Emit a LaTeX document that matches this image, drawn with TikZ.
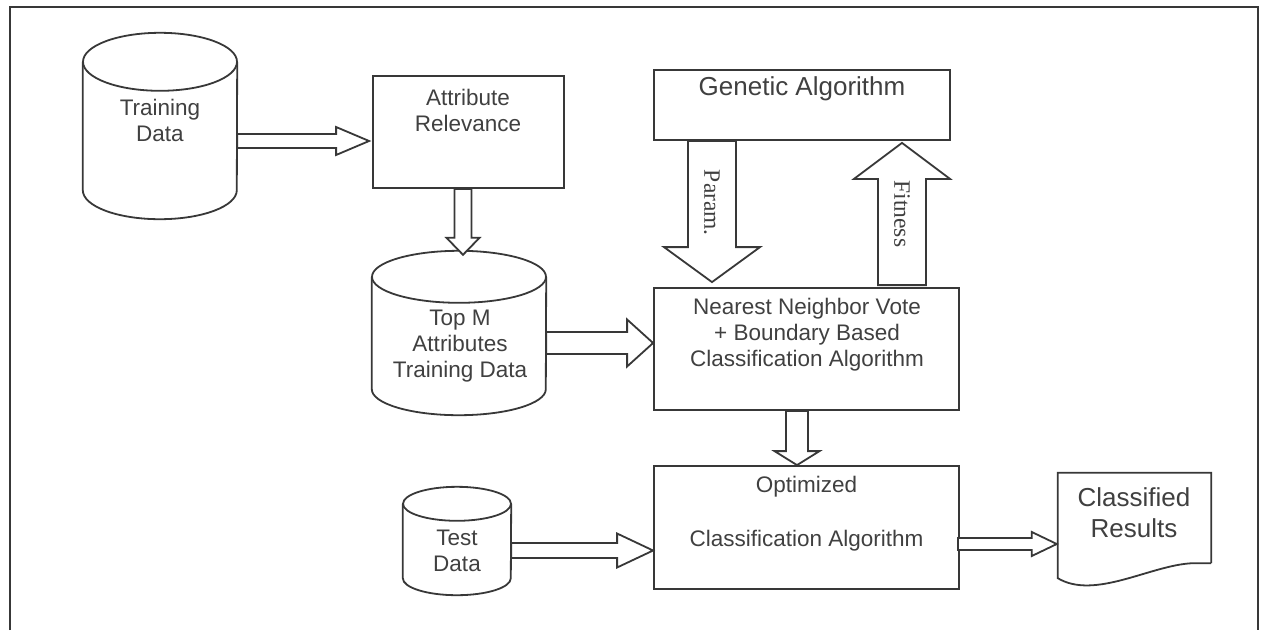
\documentclass[tikz,border=0pt]{standalone}
\usepackage{fontspec}
\setmainfont{Liberation Sans}
\newfontfamily\flowfont{Liberation Serif}
\usepackage{tikz}
\usetikzlibrary{calc}

\definecolor{linegray}{gray}{0.22}
\definecolor{textgray}{gray}{0.25}

% Hollow block arrow: from, to, shaft half width, head half width, head length
\newcommand{\fatarrow}[5]{%
  \coordinate (fa-s) at (#1);
  \coordinate (fa-e) at (#2);
  \coordinate (fa-h) at ($(fa-e)!#5pt!(fa-s)$);
  \draw[fat] ($(fa-s)!#3pt!90:(fa-e)$) -- ($(fa-h)!#3pt!90:(fa-e)$)
    -- ($(fa-h)!#4pt!90:(fa-e)$) -- (fa-e) -- ($(fa-h)!#4pt!-90:(fa-e)$)
    -- ($(fa-h)!#3pt!-90:(fa-e)$) -- ($(fa-s)!#3pt!-90:(fa-e)$) -- cycle;
}

% Database outline round a named node: node, x radius, y radius
\newcommand{\dbshape}[3]{%
  \draw[line, fill=white] ($(#1.north west)+(0,#3)$) -- ($(#1.south west)+(0,-#3)$)
    arc[start angle=180, end angle=360, x radius=#2pt, y radius=#3pt]
    -- ($(#1.north east)+(0,#3)$);
  \draw[line] ($(#1.north)+(0,#3)$) circle[x radius=#2pt, y radius=#3pt];
}

\begin{document}
\begin{tikzpicture}[x=1pt, y=-1pt,
  line/.style={draw=linegray, line width=1.8pt},
  box/.style={line, rectangle, inner sep=0pt},
  db/.style={rectangle, inner sep=0pt},
  fat/.style={line, fill=white, line join=miter},
  lbl/.style={text=textgray, align=center, inner sep=0pt, font=\fontsize{22.5}{26}\selectfont},
  biglbl/.style={lbl, font=\fontsize{26}{31}\selectfont},
  flowlbl/.style={text=textgray, inner sep=0pt, rotate=-90, font=\flowfont\fontsize{23.5}{28}\selectfont}]

% === Drawing region ===
\useasboundingbox (0,0) rectangle (1261,630);

% Outer frame (runs off the bottom)
\draw[line] (10,630) -- (10,7) -- (1258,7) -- (1258,630);

% === Data stores ===
\node[db, minimum width=154pt, minimum height=186pt] (train) at (160,126) {};
\dbshape{train}{77}{29}
\node[lbl] (train-txt) at (160,120.5) {Training\\Data};

\node[db, minimum width=174pt, minimum height=164pt] (topm) at (459,333) {};
\dbshape{topm}{87}{26}
\node[lbl] (topm-txt) at (460,346) {Top M\\Attributes\\Training Data};

\node[db, minimum width=108pt, minimum height=108pt] (test) at (457,541) {};
\dbshape{test}{54}{17}
\node[lbl] (test-txt) at (457,550.5) {Test\\Data};

% === Processing boxes ===
\node[box, minimum width=191pt, minimum height=112pt] (attr) at (468.5,132) {};
\node[lbl] (attr-txt) at (468,110.5) {Attribute\\Relevance};

\node[box, minimum width=296pt, minimum height=70pt] (ga) at (802,105) {};
\node[biglbl] (ga-txt) at (802,89) {Genetic Algorithm};

\node[box, minimum width=305pt, minimum height=122pt] (nn) at (806.5,349) {};
\node[lbl] (nn-txt) at (807,335) {Nearest Neighbor Vote\\+ Boundary Based\\Classification Algorithm};

\node[box, minimum width=305pt, minimum height=123pt] (opt) at (806.5,527.5) {};
\node[lbl] (opt-txt) at (806.5,514) {Optimized\\[28pt]Classification Algorithm};

% Output document
\node[db, minimum width=153pt, minimum height=90pt] (res) at (1134.5,518) {};
\draw[line] (res.south east) -- (res.north east) -- (res.north west)
  -- ($(res.south west)+(0,15)$) .. controls ($(res.south west)+(37,37)$) and ($(res.south east)+(-61,2)$) .. ($(res.south east)+(-19,0)$)
  -- (res.south east);
\node[biglbl] (res-txt) at (1134,512.5) {Classified\\Results};

% === Flow arrows ===
\fatarrow{$(train.east)+(0,15)$}{$(attr.west)+(-3,9)$}{7}{14}{33}
\fatarrow{$(attr.south)+(-5.5,0)$}{$(topm.north)+(4,4)$}{8.5}{16.5}{17}
\fatarrow{$(topm.east)+(0,10)$}{$(nn.west)+(0,-6)$}{11}{23.5}{26}
\fatarrow{$(ga.south)+(-90,0)$}{$(nn.north)+(-94.5,-5)$}{24}{48}{35}
\fatarrow{$(nn.north)+(95.5,-2)$}{$(ga.south)+(100,2)$}{24}{48}{36}
\fatarrow{$(nn.south)+(-9.5,0)$}{$(opt.north)+(-9.5,0)$}{11}{22.5}{14}
\fatarrow{$(test.east)+(0,9.5)$}{$(opt.west)+(0,23)$}{7.5}{17}{36}
\fatarrow{$(opt.east)+(-2,16.5)$}{$(res.west)+(-1,26)$}{6}{12}{25}

% Arrow labels
\node[flowlbl] (param) at ($(ga.south)+(-90,62)$) {Param.};
\node[flowlbl] (fitness) at ($(ga.south)+(100,73)$) {Fitness};

\end{tikzpicture}
\end{document}
